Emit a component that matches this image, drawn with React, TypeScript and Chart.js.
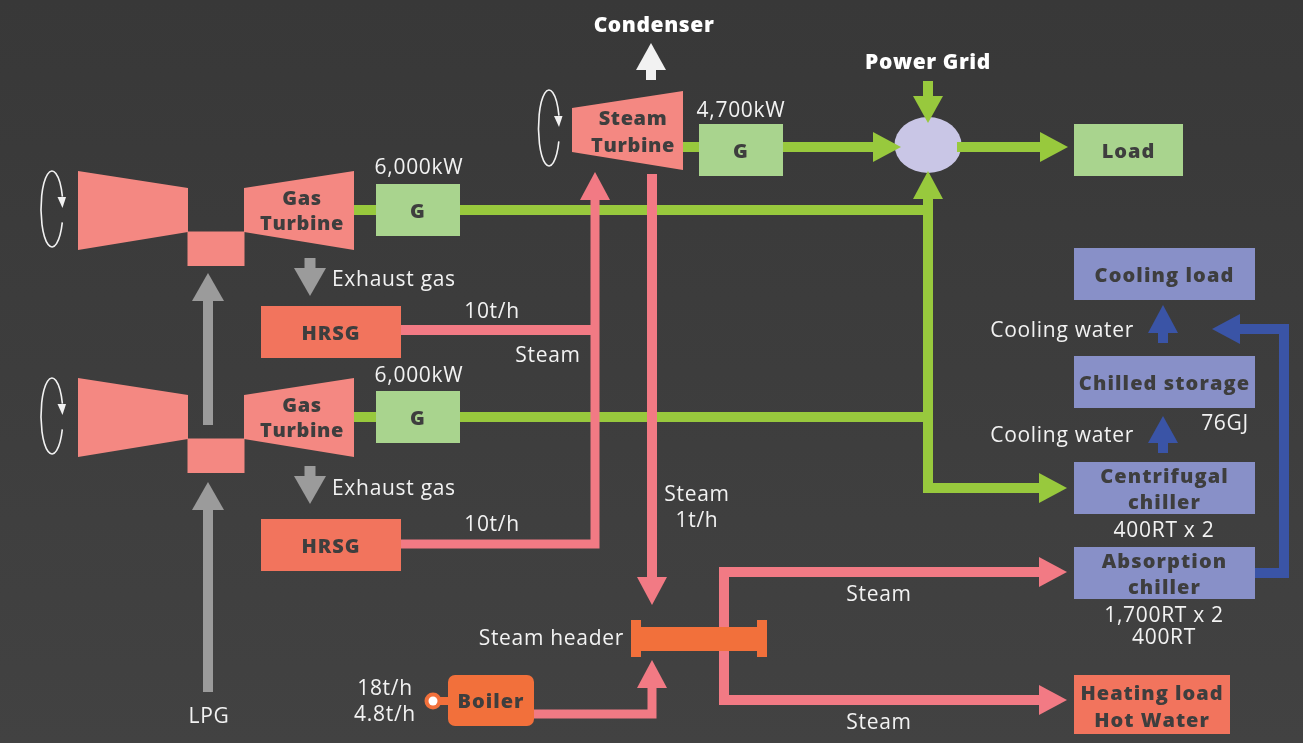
import { useEffect, useRef } from "react";
import { Chart, registerables } from "chart.js";

Chart.register(...registerables);

// ---------- content of the diagram ----------
const headings = ["Condenser", "Power Grid"];
const turbineLabels = ["Steam\nTurbine", "Gas\nTurbine", "Gas\nTurbine"];
const unitLabels = ["G", "G", "G", "Load", "HRSG", "HRSG", "Boiler"];
const coolingLabels = ["Cooling load", "Chilled storage", "Centrifugal\nchiller", "Absorption\nchiller"];
const heatingLabels = ["Heating load\nHot Water"];
const generatorOutputs = ["4,700kW", "6,000kW", "6,000kW"];
const steamFlows = ["10t/h", "10t/h", "Steam\n1t/h"];
const boilerOutputs = ["18t/h\n4.8t/h"];
const storageCapacities = ["76GJ"];
const chillerCapacities = ["400RT x 2", "1,700RT x 2\n400RT"];
const flowLabels = ["Exhaust gas", "Exhaust gas", "Steam", "Steam", "Steam", "Cooling water", "Cooling water", "Steam header", "LPG"];

// ---------- layout (diagram coordinates on the chart's linear scales) ----------
type Pt = [number, number];
const COLORS: Record<string, string> = {
  bgTop: "#383838",
  bgBottom: "#424242",
  turbine: "#f48882",
  hrsg: "#f2745d",
  orange: "#f2703b",
  pink: "#f27a84",
  green: "#98c93d",
  gbox: "#a9d48e",
  lav: "#c9c6e6",
  blueBox: "#8890c8",
  blue: "#3a54a6",
  grey: "#9b9b9b",
  dark: "#3e3e3e",
  white: "#f2f2f2",
};
const FONT = "'Open Sans', 'Noto Sans', sans-serif";

const unitLayout = [
  { x0: 699, y0: 124, x1: 783, y1: 176, fill: "gbox" },
  { x0: 376, y0: 184, x1: 460, y1: 236, fill: "gbox" },
  { x0: 376, y0: 391, x1: 460, y1: 443, fill: "gbox" },
  { x0: 1074, y0: 124, x1: 1183, y1: 176, fill: "gbox" },
  { x0: 261, y0: 306, x1: 401, y1: 358, fill: "hrsg" },
  { x0: 261, y0: 519, x1: 401, y1: 571, fill: "hrsg" },
  { x0: 448, y0: 675, x1: 534, y1: 726, fill: "orange", r: 7 },
];
const coolingLayout = [
  { x0: 1074, y0: 248, x1: 1255, y1: 300 },
  { x0: 1074, y0: 356, x1: 1255, y1: 408 },
  { x0: 1074, y0: 462, x1: 1255, y1: 514 },
  { x0: 1074, y0: 547, x1: 1255, y1: 599 },
];
const heatingLayout = [{ x0: 1074, y0: 675, x1: 1230, y1: 734 }];

const gasTurbineOffsets = [0, 207];
const steamTurbineShape: Pt[] = [[572, 108], [683, 91], [683, 170], [572, 152]];
const turbineTextLayout = [
  { x: 633, y: 118, lh: 27 },
  { x: 302, y: 198, lh: 25 },
  { x: 302, y: 405, lh: 25 },
];
const rotationLayout = [
  { cx: 549, cy: 128, rx: 10.5, ry: 38 },
  { cx: 52, cy: 209, rx: 11, ry: 38 },
  { cx: 52, cy: 416, rx: 11, ry: 38 },
];

type ArrowDef = { pts: Pt[]; color: string; w: number; end?: boolean; start?: boolean; hl?: number; hw?: number };
const arrows: ArrowDef[] = [
  // electricity
  { pts: [[683, 147], [901, 147]], color: "green", w: 10, end: true },
  { pts: [[957, 147], [1068, 147]], color: "green", w: 10, end: true },
  { pts: [[928, 81], [928, 123]], color: "green", w: 10, end: true, hl: 27 },
  { pts: [[354, 210], [928, 210]], color: "green", w: 10 },
  { pts: [[354, 417], [928, 417]], color: "green", w: 10 },
  { pts: [[928, 171], [928, 488], [1067, 488]], color: "green", w: 10, start: true, end: true },
  // exhaust / fuel
  { pts: [[310, 258], [310, 296]], color: "grey", w: 11, end: true, hw: 16 },
  { pts: [[310, 466], [310, 504]], color: "grey", w: 11, end: true, hw: 16 },
  { pts: [[208, 425], [208, 273]], color: "grey", w: 10, end: true, hw: 16 },
  { pts: [[208, 692], [208, 482]], color: "grey", w: 10, end: true, hw: 16 },
  // condenser
  { pts: [[651, 80], [651, 43]], color: "white", w: 10, end: true, hl: 27 },
  // cooling water
  { pts: [[1163, 343], [1163, 305]], color: "blue", w: 10, end: true, hl: 28 },
  { pts: [[1163, 453], [1163, 416]], color: "blue", w: 10, end: true, hl: 27 },
  { pts: [[1255, 573], [1284, 573], [1284, 329], [1212, 329]], color: "blue", w: 10, end: true },
  // steam
  { pts: [[401, 330], [599, 330]], color: "pink", w: 10 },
  { pts: [[401, 544], [595, 544], [595, 172]], color: "pink", w: 9, end: true },
  { pts: [[652, 174], [652, 605]], color: "pink", w: 10, end: true },
  { pts: [[534, 714], [652, 714], [652, 660]], color: "pink", w: 9, end: true },
  { pts: [[1067, 572], [724, 572], [724, 700], [1067, 700]], color: "pink", w: 10, start: true, end: true },
];

type TextPos = { x: number; y: number; align?: CanvasTextAlign; lh?: number };
const generatorOutputLayout: TextPos[] = [{ x: 741, y: 110 }, { x: 419, y: 167 }, { x: 419, y: 375 }];
const steamFlowLayout: TextPos[] = [{ x: 492, y: 311 }, { x: 492, y: 524 }, { x: 697, y: 494, lh: 26 }];
const boilerOutputLayout: TextPos[] = [{ x: 385, y: 688, lh: 26 }];
const storageLayout: TextPos[] = [{ x: 1225, y: 423 }];
const chillerCapLayout: TextPos[] = [{ x: 1164, y: 530 }, { x: 1164, y: 615, lh: 22 }];
const flowLabelLayout: TextPos[] = [
  { x: 332, y: 279, align: "left" },
  { x: 332, y: 488, align: "left" },
  { x: 548, y: 355 },
  { x: 879, y: 594 },
  { x: 879, y: 722 },
  { x: 1134, y: 330, align: "right" },
  { x: 1134, y: 435, align: "right" },
  { x: 624, y: 638, align: "right" },
  { x: 209, y: 716 },
];
const headingLayout: TextPos[] = [{ x: 654, y: 25 }, { x: 928, y: 62 }];

// ---------- drawing plugin ----------
const diagramPlugin = {
  id: "cchpDiagram",
  beforeDraw(chart: any) {
    const { ctx, width, height } = chart;
    const g = ctx.createLinearGradient(0, 0, 0, height);
    g.addColorStop(0, COLORS.bgTop);
    g.addColorStop(1, COLORS.bgBottom);
    ctx.save();
    ctx.fillStyle = g;
    ctx.fillRect(0, 0, width, height);
    ctx.restore();
  },
  afterDatasetsDraw(chart: any) {
    const ctx: CanvasRenderingContext2D = chart.ctx;
    const xs = chart.scales.x;
    const ys = chart.scales.y;
    const X = (v: number) => xs.getPixelForValue(v);
    const Y = (v: number) => ys.getPixelForValue(v);

    const poly = (pts: Pt[], fill: string) => {
      ctx.beginPath();
      pts.forEach(([x, y], i) => (i ? ctx.lineTo(X(x), Y(y)) : ctx.moveTo(X(x), Y(y))));
      ctx.closePath();
      ctx.fillStyle = fill;
      ctx.fill();
    };
    const rect = (x0: number, y0: number, x1: number, y1: number, fill: string, r = 0) => {
      ctx.beginPath();
      if (r > 0) (ctx as any).roundRect(X(x0), Y(y0), X(x1) - X(x0), Y(y1) - Y(y0), r);
      else ctx.rect(X(x0), Y(y0), X(x1) - X(x0), Y(y1) - Y(y0));
      ctx.fillStyle = fill;
      ctx.fill();
    };
    const text = (
      str: string,
      x: number,
      y: number,
      font: string,
      color: string,
      align: CanvasTextAlign = "center",
      lh = 25,
      spacing = "0px"
    ) => {
      ctx.save();
      ctx.font = font;
      ctx.fillStyle = color;
      ctx.textAlign = align;
      ctx.textBaseline = "middle";
      (ctx as any).letterSpacing = spacing;
      str.split("\n").forEach((line, i) => ctx.fillText(line, X(x), Y(y + 1 + i * lh)));
      ctx.restore();
    };
    const drawArrow = (a: ArrowDef) => {
      const hl = a.hl ?? 28;
      const hw = a.hw ?? 15;
      const p = a.pts.map(([x, y]) => [X(x), Y(y)] as Pt);
      const shorten = (from: Pt, to: Pt): Pt => {
        const dx = to[0] - from[0];
        const dy = to[1] - from[1];
        const L = Math.hypot(dx, dy);
        return [to[0] - (dx / L) * (hl - 2), to[1] - (dy / L) * (hl - 2)];
      };
      const line = p.slice();
      if (a.end) line[line.length - 1] = shorten(p[p.length - 2], p[p.length - 1]);
      if (a.start) line[0] = shorten(p[1], p[0]);
      const col = COLORS[a.color];
      ctx.save();
      ctx.strokeStyle = col;
      ctx.lineWidth = a.w;
      ctx.lineCap = "butt";
      ctx.lineJoin = "miter";
      ctx.beginPath();
      line.forEach((q, i) => (i ? ctx.lineTo(q[0], q[1]) : ctx.moveTo(q[0], q[1])));
      ctx.stroke();
      const head = (from: Pt, tip: Pt) => {
        const dx = tip[0] - from[0];
        const dy = tip[1] - from[1];
        const L = Math.hypot(dx, dy);
        const ux = dx / L;
        const uy = dy / L;
        const bx = tip[0] - ux * hl;
        const by = tip[1] - uy * hl;
        ctx.beginPath();
        ctx.moveTo(tip[0], tip[1]);
        ctx.lineTo(bx - uy * hw, by + ux * hw);
        ctx.lineTo(bx + uy * hw, by - ux * hw);
        ctx.closePath();
        ctx.fillStyle = col;
        ctx.fill();
      };
      if (a.end) head(p[p.length - 2], p[p.length - 1]);
      if (a.start) head(p[1], p[0]);
      ctx.restore();
    };

    // power-grid junction
    ctx.beginPath();
    ctx.ellipse(X(928), Y(145), X(961.5) - X(928), Y(173) - Y(145), 0, 0, Math.PI * 2);
    ctx.fillStyle = COLORS.lav;
    ctx.fill();

    const order = ["green", "grey", "white", "blue", "pink"];
    order.forEach((c) => arrows.filter((a) => a.color === c).forEach(drawArrow));

    unitLayout.forEach((b) => rect(b.x0, b.y0, b.x1, b.y1, COLORS[b.fill], b.r ?? 0));
    coolingLayout.forEach((b) => rect(b.x0, b.y0, b.x1, b.y1, COLORS.blueBox));
    heatingLayout.forEach((b) => rect(b.x0, b.y0, b.x1, b.y1, COLORS.hrsg));

    // boiler inlet nozzle
    rect(433, 697, 452, 705, COLORS.orange);
    ctx.beginPath();
    ctx.arc(X(433), Y(701), 8.5, 0, Math.PI * 2);
    ctx.fillStyle = COLORS.orange;
    ctx.fill();
    ctx.beginPath();
    ctx.arc(X(433), Y(701), 4.5, 0, Math.PI * 2);
    ctx.fillStyle = "#ffffff";
    ctx.fill();

    // steam header
    rect(631, 627, 767, 651, COLORS.orange);
    rect(631, 620, 641, 657, COLORS.orange);
    rect(757, 620, 767, 657, COLORS.orange);

    // turbines
    poly(steamTurbineShape, COLORS.turbine);
    gasTurbineOffsets.forEach((o) => {
      poly([[78, 171 + o], [188, 188 + o], [188, 232 + o], [78, 250 + o]], COLORS.turbine);
      rect(187.5, 231.5 + o, 244.5, 266 + o, COLORS.turbine);
      poly([[244, 188 + o], [354, 171 + o], [354, 250 + o], [244, 232 + o]], COLORS.turbine);
    });

    // rotation symbols
    rotationLayout.forEach(({ cx, cy, rx, ry }) => {
      ctx.save();
      ctx.strokeStyle = COLORS.white;
      ctx.lineWidth = 1.6;
      ctx.beginPath();
      ctx.ellipse(X(cx), Y(cy), rx, ry, 0, 0.36, Math.PI * 2 - 0.33);
      ctx.stroke();
      ctx.beginPath();
      ctx.moveTo(X(cx) + rx - 5.5, Y(cy) - 12);
      ctx.lineTo(X(cx) + rx + 3, Y(cy) - 12);
      ctx.lineTo(X(cx) + rx - 0.5, Y(cy) - 1);
      ctx.closePath();
      ctx.fillStyle = COLORS.white;
      ctx.fill();
      ctx.restore();
    });

    // texts
    const bold = `800 21px ${FONT}`;
    const boldS = `800 20px ${FONT}`;
    const reg = `21px ${FONT}`;
    const dark = COLORS.dark;
    const white = COLORS.white;

    headings.forEach((h, i) => text(h, headingLayout[i].x, headingLayout[i].y, bold, "#ffffff", "center", 25, "0.6px"));
    turbineLabels.forEach((t, i) => {
      const l = turbineTextLayout[i];
      text(t, l.x, l.y, boldS, dark, "center", l.lh, "0.6px");
    });
    unitLabels.forEach((t, i) => {
      const b = unitLayout[i];
      text(t, (b.x0 + b.x1) / 2, (b.y0 + b.y1) / 2 + 1, boldS, dark, "center", 25, "1px");
    });
    coolingLabels.forEach((t, i) => {
      const b = coolingLayout[i];
      const n = t.split("\n").length;
      text(t, (b.x0 + b.x1) / 2, (b.y0 + b.y1) / 2 + 1 - ((n - 1) * 26) / 2, boldS, dark, "center", 26, "1.1px");
    });
    heatingLabels.forEach((t, i) => {
      const b = heatingLayout[i];
      const n = t.split("\n").length;
      text(t, (b.x0 + b.x1) / 2, (b.y0 + b.y1) / 2 + 2 - ((n - 1) * 27) / 2, boldS, dark, "center", 27, "1px");
    });
    const regText = (arr: string[], lay: TextPos[]) =>
      arr.forEach((t, i) => text(t, lay[i].x, lay[i].y, reg, white, lay[i].align ?? "center", lay[i].lh ?? 25, "0.7px"));
    regText(generatorOutputs, generatorOutputLayout);
    regText(steamFlows, steamFlowLayout);
    regText(boilerOutputs, boilerOutputLayout);
    regText(storageCapacities, storageLayout);
    regText(chillerCapacities, chillerCapLayout);
    regText(flowLabels, flowLabelLayout);
  },
};

export default function App() {
  const ref = useRef<HTMLCanvasElement | null>(null);
  useEffect(() => {
    if (!ref.current) return;
    const chart = new Chart(ref.current, {
      type: "scatter",
      data: {
        datasets: [
          {
            data: unitLayout.map((b) => ({ x: (b.x0 + b.x1) / 2, y: (b.y0 + b.y1) / 2 })),
            pointRadius: 0,
            pointHoverRadius: 0,
          },
        ],
      },
      options: {
        animation: false,
        responsive: false,
        maintainAspectRatio: false,
        events: [],
        layout: { padding: 0 },
        plugins: { legend: { display: false }, tooltip: { enabled: false } },
        scales: {
          x: { type: "linear", min: 0, max: 1303, display: false },
          y: { type: "linear", min: 0, max: 743, reverse: true, display: false },
        },
      },
      plugins: [diagramPlugin],
    });
    return () => chart.destroy();
  }, []);
  return (
    <div style={{ position: "fixed", left: 0, top: 0, width: 1303, height: 743, background: "#3c3c3c" }}>
      <canvas ref={ref} width={1303} height={743} style={{ display: "block", width: 1303, height: 743 }} />
    </div>
  );
}
